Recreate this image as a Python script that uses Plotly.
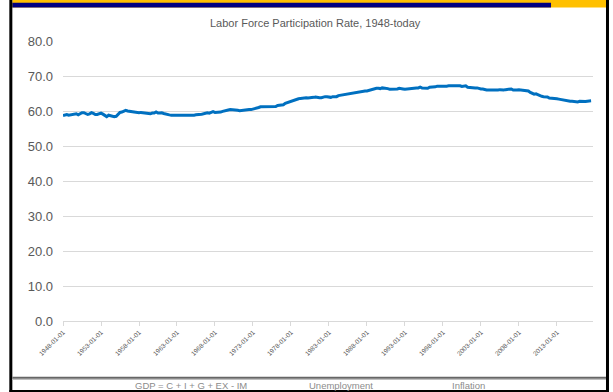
import pandas as pd
import plotly.graph_objects as go

# Labor force participation rate (%), quarterly, starting 1948 Q1
participation = [
    58.7, 58.9, 59.0, 58.8,   # 1948
    58.9, 58.8, 59.0, 59.2,   # 1949
    58.9, 59.2, 59.5, 59.5,   # 1950
    59.2, 59.0, 59.2, 59.5,   # 1951
    59.3, 59.0, 59.0, 59.3,   # 1952
    59.4, 59.1, 58.8, 58.4,   # 1953
    58.8, 58.6, 58.6, 58.4,   # 1954
    58.5, 59.0, 59.6, 59.7,   # 1955
    60.0, 60.2, 60.0, 59.9,   # 1956
    59.8, 59.6, 59.5, 59.6,   # 1957
    59.5, 59.6, 59.5, 59.3,   # 1958
    59.4, 59.3, 59.2, 59.4,   # 1959
    59.4, 59.7, 59.4, 59.4,   # 1960
    59.5, 59.3, 59.1, 58.9,   # 1961
    58.9, 58.8, 58.8, 58.6,   # 1962
    58.8, 58.7, 58.6, 58.6,   # 1963
    58.6, 58.8, 58.6, 58.6,   # 1964
    58.8, 58.8, 58.9, 58.9,   # 1965
    59.0, 59.1, 59.2, 59.4,   # 1966
    59.5, 59.4, 59.7, 59.8,   # 1967
    59.6, 59.6, 59.6, 59.7,   # 1968
    59.9, 60.1, 60.1, 60.3,   # 1969
    60.4, 60.4, 60.4, 60.4,   # 1970
    60.2, 60.1, 60.2, 60.2,   # 1971
    60.2, 60.3, 60.4, 60.4,   # 1972
    60.5, 60.7, 60.8, 61.0,   # 1973
    61.2, 61.2, 61.3, 61.3,   # 1974
    61.2, 61.3, 61.2, 61.1,   # 1975
    61.3, 61.6, 61.7, 61.7,   # 1976
    61.8, 62.2, 62.4, 62.6,   # 1977
    62.8, 63.1, 63.3, 63.4,   # 1978
    63.5, 63.6, 63.7, 63.8,   # 1979
    63.8, 63.7, 63.7, 63.8,   # 1980
    63.9, 64.0, 63.8, 63.8,   # 1981
    63.8, 64.0, 64.1, 64.1,   # 1982
    63.9, 63.9, 64.1, 64.1,   # 1983
    64.1, 64.4, 64.5, 64.5,   # 1984
    64.6, 64.7, 64.8, 64.9,   # 1985
    65.1, 65.3, 65.4, 65.3,   # 1986
    65.5, 65.6, 65.7, 65.7,   # 1987
    65.7, 65.9, 66.0, 66.2,   # 1988
    66.4, 66.5, 66.5, 66.4,   # 1989
    66.6, 66.6, 66.5, 66.4,   # 1990
    66.2, 66.2, 66.1, 66.1,   # 1991
    66.3, 66.5, 66.5, 66.3,   # 1992
    66.2, 66.3, 66.2, 66.3,   # 1993
    66.6, 66.6, 66.6, 66.6,   # 1994
    66.8, 66.6, 66.6, 66.5,   # 1995
    66.5, 66.8, 66.8, 67.0,   # 1996
    66.9, 67.1, 67.0, 67.1,   # 1997
    67.1, 67.0, 67.1, 67.2,   # 1998
    67.2, 67.1, 67.1, 67.1,   # 1999
    67.3, 67.2, 67.0, 67.0,   # 2000
    67.2, 66.8, 66.7, 66.7,   # 2001
    66.5, 66.6, 66.6, 66.4,   # 2002
    66.3, 66.3, 66.1, 66.0,   # 2003
    66.0, 66.0, 66.0, 66.0,   # 2004
    65.8, 66.0, 66.1, 66.0,   # 2005
    66.0, 66.1, 66.2, 66.3,   # 2006
    66.3, 66.0, 65.9, 66.0,   # 2007
    66.1, 66.0, 66.1, 65.9,   # 2008
    65.7, 65.7, 65.3, 65.0,   # 2009
    64.8, 64.9, 64.6, 64.5,   # 2010
    64.2, 64.1, 64.1, 64.0,   # 2011
    63.7, 63.7, 63.6, 63.7,   # 2012
    63.5, 63.4, 63.3, 63.0,   # 2013
    63.0, 62.9, 62.9, 62.8,   # 2014
    62.8, 62.7, 62.5, 62.6,   # 2015
    62.8, 62.7, 62.8, 62.7,   # 2016
    62.8, 62.8, 62.9,         # 2017
]
dates = pd.date_range("1948-01-01", periods=len(participation), freq="3MS")

tick_dates = ["1948-01-01", "1953-01-01", "1958-01-01", "1963-01-01",
              "1968-01-01", "1973-01-01", "1978-01-01", "1983-01-01",
              "1988-01-01", "1993-01-01", "1998-01-01", "2003-01-01",
              "2008-01-01", "2013-01-01"]
y_ticks = [0, 10, 20, 30, 40, 50, 60, 70, 80]

chart_title = "Labor Force Participation Rate, 1948-today"
footer_items = ["GDP = C + I + G + EX - IM", "Unemployment", "Inflation"]

W, H = 613, 392
L, R, T, B = 62.7, 593.0, 41.0, 321.0   # plot area in pixels


def px(x):
    return (x - L) / (R - L)


def py(y):
    return (B - y) / (B - T)


GREY = "#595959"
FONT = "Liberation Sans, Arial, sans-serif"

fig = go.Figure(go.Scatter(
    x=dates, y=participation, mode="lines",
    line=dict(color="#0070c0", width=3),
    hoverinfo="x+y",
))

shapes = []
# page frame: top bands, side and bottom rules
shapes.append(dict(type="rect", xref="paper", yref="paper",
                   x0=px(12), x1=px(606), y0=py(0), y1=py(7.5),
                   fillcolor="#ffc000", line_width=0, layer="above"))
shapes.append(dict(type="rect", xref="paper", yref="paper",
                   x0=px(12), x1=px(551), y0=py(2.7), y1=py(7.5),
                   fillcolor="#000080", line_width=0, layer="above"))
shapes.append(dict(type="rect", xref="paper", yref="paper",
                   x0=px(9), x1=px(12), y0=py(0), y1=py(392),
                   fillcolor="#000000", line_width=0, layer="above"))
shapes.append(dict(type="rect", xref="paper", yref="paper",
                   x0=px(606), x1=px(609), y0=py(0), y1=py(392),
                   fillcolor="#000000", line_width=0, layer="above"))
shapes.append(dict(type="rect", xref="paper", yref="paper",
                   x0=px(9), x1=px(609), y0=py(390), y1=py(392),
                   fillcolor="#000000", line_width=0, layer="above"))
# footer separator
shapes.append(dict(type="rect", xref="paper", yref="paper",
                   x0=px(12), x1=px(606), y0=py(376.8), y1=py(378.8),
                   fillcolor="#666666", line_width=0, layer="above"))
shapes.append(dict(type="line", xref="paper", yref="paper",
                   x0=px(12), x1=px(606), y0=py(379.5), y1=py(379.5),
                   line=dict(color="#bfbfbf", width=1), layer="above"))

annotations = [dict(
    text=chart_title, xref="paper", yref="paper",
    x=px(315), y=py(23), xanchor="center", yanchor="middle",
    showarrow=False, font=dict(family=FONT, size=11, color=GREY),
)]
for label, cx in zip(footer_items, [191, 341, 468]):
    annotations.append(dict(
        text=label, xref="paper", yref="paper",
        x=px(cx), y=py(385.5), xanchor="center", yanchor="middle",
        showarrow=False, font=dict(family=FONT, size=9.5, color="#8c8c8c"),
    ))

fig.update_layout(
    width=W, height=H,
    margin=dict(l=L, r=W - R, t=T, b=H - B, pad=0),
    paper_bgcolor="white", plot_bgcolor="white",
    showlegend=False,
    shapes=shapes,
    annotations=annotations,
    xaxis=dict(
        type="date",
        range=["1948-01-01", "2017-10-01"],
        tickmode="array",
        tickvals=tick_dates,
        ticktext=tick_dates,
        tickangle=-45,
        tickfont=dict(family=FONT, size=6.5, color=GREY),
        ticks="outside", ticklen=4, tickcolor="#d9d9d9",
        showgrid=False,
        showline=True, linecolor="#d9d9d9", linewidth=1,
        zeroline=False,
        fixedrange=True,
    ),
    yaxis=dict(
        range=[0, 80],
        tickmode="array",
        tickvals=y_ticks,
        ticktext=[f"{v:.1f}" for v in y_ticks],
        tickfont=dict(family=FONT, size=13, color=GREY),
        showgrid=True, gridcolor="#d9d9d9", gridwidth=1,
        zeroline=False, showline=False,
        ticks="", ticklabelstandoff=9,
        fixedrange=True,
    ),
)

fig.write_html("out.html")
